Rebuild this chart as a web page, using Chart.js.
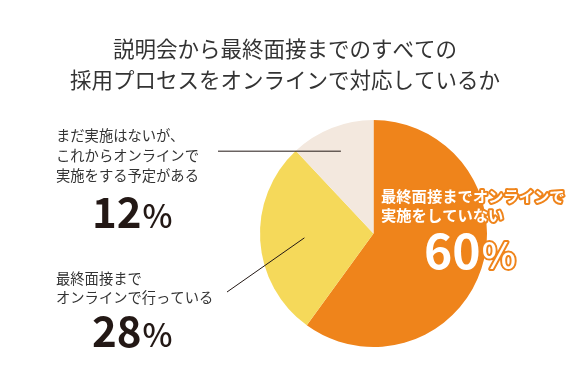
<!DOCTYPE html>
<html>
<head>
<meta charset="utf-8">
<script src="https://cdn.jsdelivr.net/npm/chart.js@4.4.0/dist/chart.umd.min.js"></script>
<style>
  html, body { margin: 0; padding: 0; background: #fff; }
  canvas { display: block; }
</style>
</head>
<body>
<canvas id="pie" width="585" height="387"></canvas>
<script>
const titleLines = ['説明会から最終面接までのすべての', '採用プロセスをオンラインで対応しているか'];
const categories = [
  ['最終面接までオンラインで', '実施をしていない'],
  ['最終面接まで', 'オンラインで行っている'],
  ['まだ実施はないが、', 'これからオンラインで', '実施をする予定がある']
];
const values = [60, 28, 12];
const colors = ['#EF841B', '#F5D95A', '#F3E8DE'];

const JP = '"Noto Sans CJK JP", "Noto Sans", sans-serif';

// draws "12%" with a smaller percent sign
function drawPercent(ctx, value, x, y, size, color, stroke) {
  ctx.save();
  ctx.textBaseline = 'alphabetic';
  ctx.textAlign = 'left';
  ctx.font = 'bold ' + size + 'px ' + JP;
  const num = String(value);
  const w = ctx.measureText(num).width;
  if (stroke) {
    ctx.lineWidth = 4; ctx.strokeStyle = stroke; ctx.lineJoin = 'round';
    ctx.strokeText(num, x, y);
  }
  ctx.fillStyle = color;
  ctx.fillText(num, x, y);
  ctx.font = '500 ' + (size * 0.76) + 'px ' + JP;
  if (stroke) ctx.strokeText('%', x + w + 1, y);
  ctx.fillText('%', x + w + 1, y);
  ctx.restore();
}

const labelsPlugin = {
  id: 'labels',
  afterDraw(chart) {
    const ctx = chart.ctx;
    const arcs = chart.getDatasetMeta(0).data;

    // title
    ctx.save();
    ctx.fillStyle = '#333';
    ctx.font = '21.5px ' + JP;
    ctx.textAlign = 'center';
    ctx.textBaseline = 'middle';
    ctx.fillText(titleLines[0], 285, 49);
    ctx.fillText(titleLines[1], 285, 80);
    ctx.restore();

    // leader lines
    ctx.save();
    ctx.strokeStyle = '#231815';
    ctx.lineWidth = 1;
    const a2 = arcs[2], m2 = (a2.startAngle + a2.endAngle) / 2;
    const y2 = a2.y + Math.sin(m2) * a2.outerRadius * 0.78;
    ctx.beginPath();
    ctx.moveTo(a2.x + Math.cos(m2) * a2.outerRadius * 0.78, y2);
    ctx.lineTo(218, y2);
    ctx.stroke();
    const a1 = arcs[1], m1 = (a1.startAngle + a1.endAngle) / 2;
    ctx.beginPath();
    ctx.moveTo(a1.x + Math.cos(m1) * a1.outerRadius * 0.61, a1.y + Math.sin(m1) * a1.outerRadius * 0.61);
    ctx.lineTo(227, 292);
    ctx.stroke();
    ctx.restore();

    // left labels
    ctx.save();
    ctx.fillStyle = '#333';
    ctx.font = '14.3px ' + JP;
    ctx.textAlign = 'left';
    ctx.textBaseline = 'middle';
    categories[2].forEach((t, i) => ctx.fillText(t, 56, 136 + i * 20));
    categories[1].forEach((t, i) => ctx.fillText(t, 56, 279 + i * 19));
    ctx.restore();
    drawPercent(ctx, values[2], 92, 228, 42, '#231815');
    drawPercent(ctx, values[1], 92, 347, 42, '#231815');

    // orange slice label
    ctx.save();
    ctx.font = 'bold 15.3px ' + JP;
    ctx.textAlign = 'left';
    ctx.textBaseline = 'middle';
    ctx.lineWidth = 4;
    ctx.lineJoin = 'round';
    ctx.strokeStyle = colors[0];
    ctx.fillStyle = '#fff';
    categories[0].forEach((t, i) => {
      ctx.strokeText(t, 381, 196 + i * 19);
      ctx.fillText(t, 381, 196 + i * 19);
    });
    ctx.restore();
    drawPercent(ctx, values[0], 424, 269, 48, '#fff', colors[0]);
  }
};

new Chart(document.getElementById('pie'), {
  type: 'pie',
  data: {
    labels: categories.map(c => c.join('')),
    datasets: [{
      data: values,
      backgroundColor: colors,
      borderWidth: 0
    }]
  },
  options: {
    responsive: false,
    animation: false,
    devicePixelRatio: 1,
    layout: { padding: { top: 120, bottom: 40, left: 260, right: 98 } },
    plugins: {
      legend: { display: false },
      tooltip: { enabled: false },
      title: { display: false }
    }
  },
  plugins: [labelsPlugin]
});
</script>
</body>
</html>
